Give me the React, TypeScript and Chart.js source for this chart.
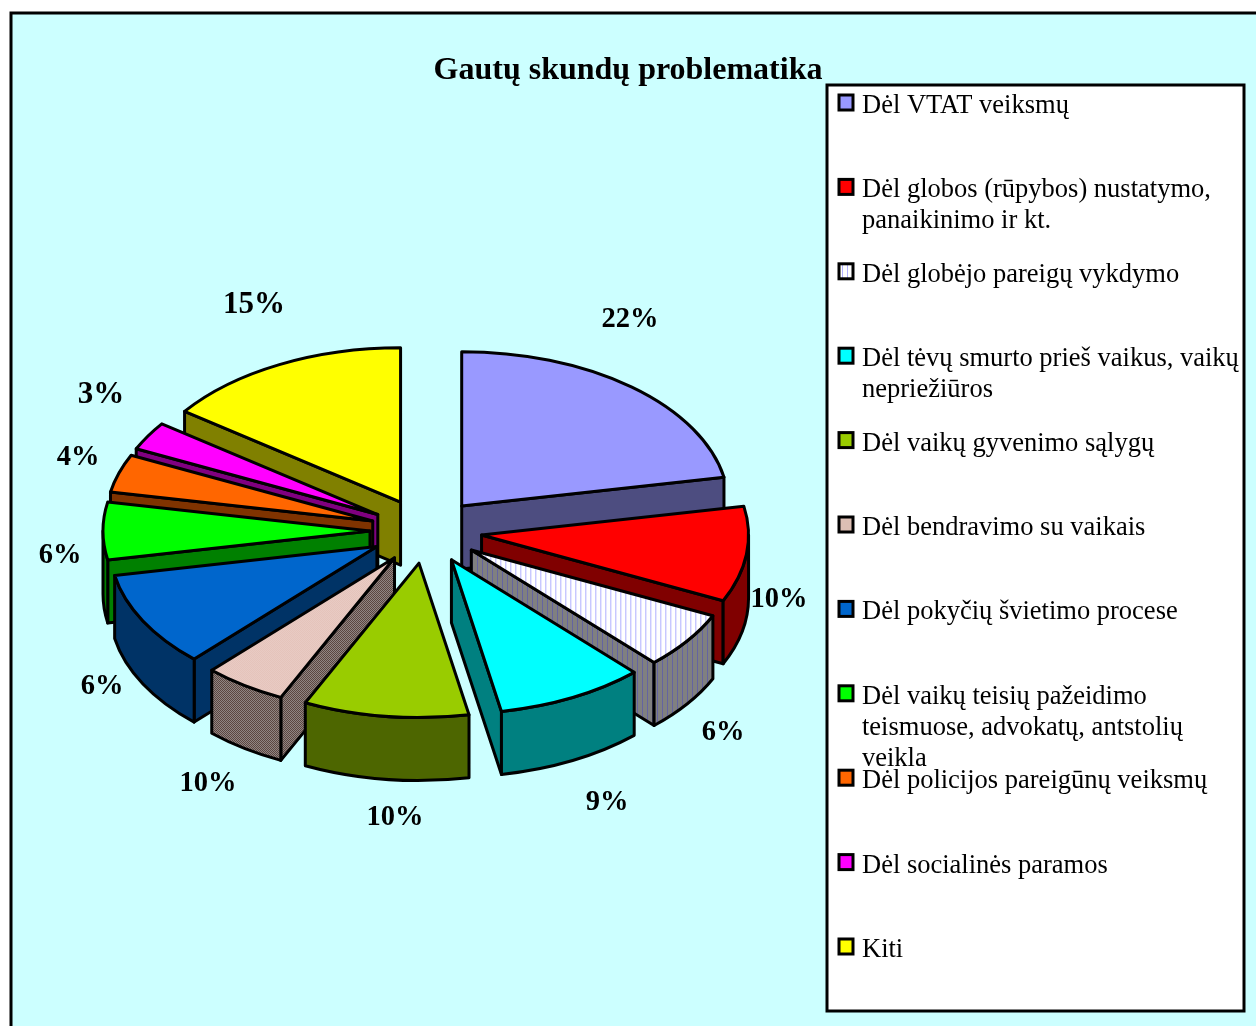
import React, { useEffect, useRef } from "react";
import { Chart, registerables } from "chart.js";

Chart.register(...registerables);

const titleText = "Gautų skundų problematika";

const categories = [
  ["Dėl VTAT veiksmų"],
  ["Dėl globos (rūpybos) nustatymo,", "panaikinimo ir kt."],
  ["Dėl globėjo pareigų vykdymo"],
  ["Dėl tėvų smurto prieš vaikus, vaikų", "nepriežiūros"],
  ["Dėl vaikų gyvenimo sąlygų"],
  ["Dėl bendravimo su vaikais"],
  ["Dėl pokyčių švietimo procese"],
  ["Dėl vaikų teisių pažeidimo", "teismuose, advokatų, antstolių", "veikla"],
  ["Dėl policijos pareigūnų veiksmų"],
  ["Dėl socialinės paramos"],
  ["Kiti"],
];

// slice sizes as they are drawn in the picture
const sliceValues = [22, 10, 6, 9, 10, 5, 10, 6, 4, 3, 15];
// the percentages as they are printed beside the slices
const percentLabels = ["22%", "10%", "6%", "9%", "10%", "10%", "6%", "6%", "4%", "3%", "15%"];

const topColors = ["#9999FF", "#FF0000", "hatch", "#00FFFF", "#99CC00", "dots", "#0066CC", "#00FF00", "#FF6600", "#FF00FF", "#FFFF00"];
const wallColors = ["#4D4D80", "#800000", "hatchDark", "#008080", "#4D6600", "dotsDark", "#003366", "#008000", "#803300", "#800080", "#808000"];

const labelCentres = [
  [630, 320], [779, 600], [723, 733], [607, 803], [395, 818], [208, 784],
  [102, 687], [60, 556], [78, 458], [101, 395], [254, 305],
];
const labelFontSizes = [28.5, 28.5, 28.5, 28.5, 28.5, 28.5, 28.5, 28.5, 28.5, 31, 31];

const PIE_X = 426;
const PIE_Y = 531;
const TILT = 0.578;
const DEPTH = 63;
const EXPLODE = 56;
const RADIUS = 267;
const SERIF = "'Liberation Serif', 'Times New Roman', serif";

function stripes(bg: string, line: string) {
  const c = document.createElement("canvas");
  c.width = 5;
  c.height = 4;
  const x = c.getContext("2d")!;
  x.fillStyle = bg;
  x.fillRect(0, 0, 5, 4);
  x.fillStyle = line;
  x.fillRect(2, 0, 1, 4);
  return x.createPattern(c, "repeat")!;
}

function checks(a: string, b: string, squash: boolean) {
  const c = document.createElement("canvas");
  c.width = 2;
  c.height = 2;
  const x = c.getContext("2d")!;
  x.fillStyle = a;
  x.fillRect(0, 0, 2, 2);
  x.fillStyle = b;
  x.fillRect(0, 0, 1, 1);
  x.fillRect(1, 1, 1, 1);
  const p = x.createPattern(c, "repeat")!;
  if (squash) p.setTransform(new DOMMatrix().scale(1, 1 / TILT));
  return p;
}

export default function App() {
  const ref = useRef<HTMLCanvasElement | null>(null);

  useEffect(() => {
    const patterns: Record<string, CanvasPattern> = {
      hatch: stripes("#FFFFFF", "#B0B0FF"),
      hatchDark: stripes("#808080", "#6464A0"),
      dots: checks("#FFFFFF", "#CF9080", true),
      dotsDark: checks("#908684", "#5C4640", false),
    };
    const paint = (c: string) => patterns[c] ?? c;

    const pie3d = {
      id: "pie3d",
      beforeDraw(chart: any) {
        const { ctx, width, height } = chart;
        ctx.save();
        ctx.fillStyle = "#FFFFFF";
        ctx.fillRect(0, 0, width, height);
        ctx.fillStyle = "#CCFFFF";
        ctx.fillRect(11, 13, width, height);
        ctx.strokeStyle = "#000000";
        ctx.lineWidth = 3;
        ctx.beginPath();
        ctx.moveTo(11, height);
        ctx.lineTo(11, 13);
        ctx.lineTo(width, 13);
        ctx.stroke();
        ctx.restore();
      },
      beforeDatasetDraw() {
        return false;
      },
      afterDatasetsDraw(chart: any) {
        const { ctx } = chart;
        const arcs = chart.getDatasetMeta(0).data.map((arc: any, i: number) => {
          const mid = (arc.startAngle + arc.endAngle) / 2;
          return {
            arc,
            i,
            a0: arc.startAngle,
            a1: arc.endAngle,
            r: arc.outerRadius,
            tx: PIE_X + EXPLODE * Math.cos(mid),
            ty: PIE_Y + EXPLODE * Math.sin(mid) * TILT,
            key: Math.sin(mid),
          };
        });
        arcs.sort((p: any, q: any) => p.key - q.key);

        ctx.save();
        ctx.strokeStyle = "#000000";
        ctx.lineWidth = 3;
        ctx.lineJoin = "round";
        for (const s of arcs) {
          const ry = s.r * TILT;
          const wall = paint(wallColors[s.i]);
          const radial = (a: number) => {
            const x = s.tx + s.r * Math.cos(a);
            const y = s.ty + ry * Math.sin(a);
            ctx.beginPath();
            ctx.moveTo(s.tx, s.ty);
            ctx.lineTo(x, y);
            ctx.lineTo(x, y + DEPTH);
            ctx.lineTo(s.tx, s.ty + DEPTH);
            ctx.closePath();
            ctx.fillStyle = wall;
            ctx.fill();
            ctx.stroke();
          };
          if (Math.cos(s.a0) < 0) radial(s.a0);
          if (Math.cos(s.a1) > 0) radial(s.a1);

          const from = Math.max(s.a0, 0);
          const to = Math.min(s.a1, Math.PI);
          if (to > from) {
            ctx.beginPath();
            ctx.ellipse(s.tx, s.ty, s.r, ry, 0, from, to);
            ctx.ellipse(s.tx, s.ty + DEPTH, s.r, ry, 0, to, from, true);
            ctx.closePath();
            ctx.fillStyle = wall;
            ctx.fill();
            ctx.stroke();
          }

          // top face: the library's own arc element, squashed into the tilt
          ctx.save();
          ctx.translate(s.tx, s.ty);
          ctx.scale(1, TILT);
          ctx.translate(-s.arc.x, -s.arc.y);
          s.arc.draw(ctx);
          ctx.restore();

          ctx.beginPath();
          ctx.moveTo(s.tx, s.ty);
          ctx.ellipse(s.tx, s.ty, s.r, ry, 0, s.a0, s.a1);
          ctx.closePath();
          ctx.stroke();
        }
        ctx.restore();
      },
      afterDraw(chart: any) {
        const { ctx } = chart;
        ctx.save();
        // percentage labels
        ctx.fillStyle = "#000000";
        ctx.textAlign = "center";
        ctx.textBaseline = "middle";
        percentLabels.forEach((t, i) => {
          ctx.font = `bold ${labelFontSizes[i]}px ${SERIF}`;
          ctx.fillText(t, labelCentres[i][0], labelCentres[i][1]);
        });
        // legend
        ctx.fillStyle = "#FFFFFF";
        ctx.strokeStyle = "#000000";
        ctx.lineWidth = 3;
        ctx.fillRect(827, 85, 417, 926);
        ctx.strokeRect(827, 85, 417, 926);
        ctx.textAlign = "left";
        ctx.textBaseline = "alphabetic";
        ctx.font = `26.5px ${SERIF}`;
        categories.forEach((lines, i) => {
          const base = 113 + i * 84.4;
          ctx.fillStyle = topColors[i] === "dots" ? patterns.dotsDark : paint(topColors[i]);
          if (topColors[i] === "dots") ctx.fillStyle = "#DDBFB4";
          ctx.fillRect(839, base - 18, 14, 15);
          ctx.strokeRect(839, base - 18, 14, 15);
          ctx.fillStyle = "#000000";
          lines.forEach((line, j) => ctx.fillText(line, 862, base + j * 31));
        });
        ctx.restore();
      },
    };

    const chart = new Chart(ref.current!, {
      type: "pie",
      data: {
        labels: categories.map((c) => c.join(" ")),
        datasets: [
          {
            data: sliceValues,
            backgroundColor: topColors.map(paint),
            borderWidth: 0,
            hoverOffset: 0,
          },
        ],
      },
      options: {
        responsive: false,
        animation: false,
        events: [],
        radius: RADIUS,
        layout: { padding: 0 },
        plugins: {
          legend: { display: false },
          tooltip: { enabled: false },
          title: {
            display: true,
            text: titleText,
            color: "#000000",
            font: { family: SERIF, size: 32, weight: "bold", lineHeight: 1.2 },
            padding: { top: 52, bottom: 0 },
          },
        },
      },
      plugins: [pie3d],
    } as any);
    return () => chart.destroy();
  }, []);

  return (
    <div style={{ position: "fixed", left: 0, top: 0, width: 1256, height: 1026, overflow: "hidden" }}>
      <canvas ref={ref} width={1256} height={1026} style={{ display: "block" }} />
    </div>
  );
}
